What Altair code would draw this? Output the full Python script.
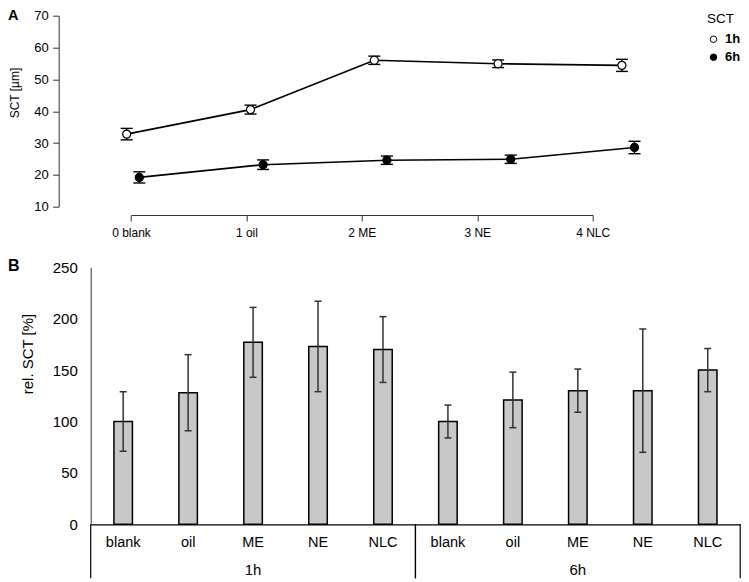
import altair as alt
import pandas as pd

FONT = "Liberation Sans"

# ---------------- data ----------------
categories = ["blank", "oil", "ME", "NE", "NLC"]
top_labels = ["0 blank", "1 oil", "2 ME", "3 NE", "4 NLC"]
times = ["1h", "6h"]

sct_1h = [32.8, 40.5, 56.0, 54.9, 54.4]
sct_1h_err = [1.8, 1.4, 1.3, 1.2, 1.9]
sct_6h = [19.2, 23.2, 24.6, 24.9, 28.6]
sct_6h_err = [1.75, 1.5, 1.3, 1.3, 1.95]

rel_1h = [100, 128, 177, 173, 170]
rel_1h_err = [29, 37, 34, 44, 32]
rel_6h = [100, 121, 130, 130, 150]
rel_6h_err = [16, 27, 21, 60, 21]

# ---------------- tables ----------------
top_rows = []
for s, vals, errs in (("1h", sct_1h, sct_1h_err), ("6h", sct_6h, sct_6h_err)):
    for i, lab in enumerate(top_labels):
        top_rows.append(dict(idx=i, label=lab, series=s, sct=vals[i],
                             lo=vals[i] - errs[i], hi=vals[i] + errs[i]))
top_df = pd.DataFrame(top_rows)

keys = [f"{t} {c}" for t in times for c in categories]
bot_rows = []
for t, vals, errs in (("1h", rel_1h, rel_1h_err), ("6h", rel_6h, rel_6h_err)):
    for i, c in enumerate(categories):
        bot_rows.append(dict(key=f"{t} {c}", time=t, cat=c, val=vals[i],
                             lo=vals[i] - errs[i], hi=vals[i] + errs[i]))
bot_df = pd.DataFrame(bot_rows)
grp_df = pd.DataFrame({"time": times})

# ---------------- layout (pixels inside the plot area) ----------------
W = 649.5
H = 508.6                      # full plot area height (top of panel A to x-axis of panel B)
TOP_RANGE = [191, 0]           # panel A: y=10 .. y=70
TOP_XAXIS_Y = 199.3            # panel A x-axis line
BOT_RANGE = [508.6, 251.6]     # panel B: y=0 .. y=250
AXC = "#333333"

# ---------------- panel A ----------------
ys_top = alt.Scale(domain=[10, 70], range=TOP_RANGE, nice=False, zero=False)
yaxis_top = alt.Axis(title="SCT [µm]", orient="left", values=[10, 20, 30, 40, 50, 60, 70],
                     offset=32, tickSize=6, labelPadding=4.5, labelFontSize=13,
                     titleFontSize=12, titlePadding=12.5, titleY=76.8, domainColor=AXC,
                     tickColor=AXC, labelColor="black", grid=False)
xq = alt.X("idx:Q", scale=alt.Scale(domain=[0, 4], range=[42.3, 537.5], nice=False, zero=False),
           axis=None)

fill_enc = alt.Fill("series:N", scale=alt.Scale(domain=times, range=["white", "black"]),
                    legend=alt.Legend(title="SCT", orient="none", legendX=616.3, legendY=-3.5))

axis_layer = alt.Chart(pd.DataFrame({"label": top_labels})).mark_point(opacity=0).encode(
    x=alt.X("label:N", sort=top_labels,
            scale=alt.Scale(type="point", domain=top_labels, range=[40.3, 502], padding=0),
            axis=alt.Axis(orient="bottom", offset=TOP_XAXIS_Y - H, title=None, labelAngle=0,
                          tickSize=6, labelPadding=7, labelFontSize=12, domainColor=AXC,
                          tickColor=AXC, labelColor="black", grid=False)),
    y=alt.value(100),
)

layers = [axis_layer]
first = True
for s, off in (("1h", -6.3), ("6h", 6.3)):
    base = alt.Chart(top_df).transform_filter(alt.datum.series == s)
    layers.append(base.mark_line(color="black", strokeWidth=1.6, xOffset=off).encode(
        x=xq, y=alt.Y("sct:Q", scale=ys_top, axis=yaxis_top if first else None)))
    first = False
    layers.append(base.mark_rule(color="black", strokeWidth=1.4, xOffset=off).encode(
        x=xq, y=alt.Y("lo:Q", scale=ys_top, axis=None), y2="hi:Q"))
    for f in ("lo", "hi"):
        layers.append(base.mark_tick(orient="horizontal", size=12, thickness=1.4,
                                     color="black", xOffset=off, opacity=1).encode(
            x=xq, y=alt.Y(f"{f}:Q", scale=ys_top, axis=None)))
for s, off in (("1h", -6.3), ("6h", 6.3)):
    base = alt.Chart(top_df).transform_filter(alt.datum.series == s)
    layers.append(base.mark_circle(size=65, stroke="black", strokeWidth=1.2,
                                   opacity=1, xOffset=off).encode(
        x=xq, y=alt.Y("sct:Q", scale=ys_top, axis=None), fill=fill_enc))

panel_df = pd.DataFrame({"p": ["A", "B"], "yy": [4.1, 255.3], "fs": [14.5, 16]})
for p, yy, fs in zip(panel_df.p, panel_df.yy, panel_df.fs):
    layers.append(alt.Chart(panel_df).transform_filter(alt.datum.p == p).mark_text(
        align="left", baseline="alphabetic", fontSize=float(fs), fontWeight="bold",
        color="black").encode(x=alt.value(-82.7), y=alt.value(float(yy)), text="p:N"))

# ---------------- panel B ----------------
xb_scale = alt.Scale(domain=keys, paddingInner=0, paddingOuter=0)
xb_axis = alt.Axis(title=None, orient="bottom", labelAngle=0, ticks=False, tickSize=0,
                   labelPadding=11, labelExpr="split(datum.value, ' ')[1]", labelFontSize=14.5,
                   domainColor="black", domainWidth=1.2, labelColor="black", grid=False)
yb_scale = alt.Scale(domain=[0, 250], range=BOT_RANGE, nice=False)
yb_axis = alt.Axis(title="rel. SCT [%]", orient="left", values=[0, 50, 100, 150, 200, 250],
                   ticks=False, tickSize=0, labelPadding=13.4, labelFontSize=15,
                   titleFontSize=15, titlePadding=17, titleY=337.8, domainColor=AXC,
                   labelColor="black", grid=False)

bb = alt.Chart(bot_df)
layers.append(bb.mark_bar(size=18.5, fill="#c8c8c8", stroke="black", strokeWidth=1.5).encode(
    x=alt.X("key:N", sort=keys, scale=xb_scale, axis=xb_axis),
    y=alt.Y("val:Q", scale=yb_scale, axis=yb_axis)))
layers.append(bb.mark_rule(color=AXC, strokeWidth=1.5).encode(
    x=alt.X("key:N", sort=keys, scale=xb_scale, axis=None),
    y=alt.Y("lo:Q", scale=yb_scale, axis=None), y2="hi:Q"))
for f in ("lo", "hi"):
    layers.append(bb.mark_tick(orient="horizontal", size=7, thickness=1.5, color=AXC,
                               opacity=1).encode(
        x=alt.X("key:N", sort=keys, scale=xb_scale, axis=None),
        y=alt.Y(f"{f}:Q", scale=yb_scale, axis=None)))

gx_scale = alt.Scale(domain=times, paddingInner=0, paddingOuter=0)
gb = alt.Chart(grp_df)
for bp in (0, 1):
    layers.append(gb.mark_rule(color="black", strokeWidth=1.2).encode(
        x=alt.X("time:N", scale=gx_scale, axis=None, bandPosition=bp),
        y=alt.value(H), y2=alt.value(H + 54)))
layers.append(gb.mark_text(fontSize=15, baseline="middle", color="black").encode(
    x=alt.X("time:N", scale=gx_scale, axis=None),
    y=alt.value(H + 46), text="time:N"))

chart = alt.layer(*layers).resolve_scale(x="independent", y="independent").properties(
    width=W, height=H,
    autosize=alt.AutoSizeParams(type="none"),
    padding={"left": 82.7, "top": 7.7, "right": 0.8, "bottom": 57},
).configure(font=FONT).configure_view(stroke=None).configure_axis(
    titleFontWeight="normal", titleColor="black", labelFont=FONT, titleFont=FONT
).configure_legend(
    padding=0, titleFontSize=13.5, titleFontWeight="normal", labelFontSize=13,
    labelFontWeight="bold", symbolSize=42, symbolType="circle", symbolStrokeColor="black",
    symbolStrokeWidth=1, titlePadding=7, rowPadding=4, labelOffset=5, titleColor="black",
    labelColor="black", titleFont=FONT, labelFont=FONT)

chart.save("out.html", embed_options={"renderer": "svg", "actions": False})
